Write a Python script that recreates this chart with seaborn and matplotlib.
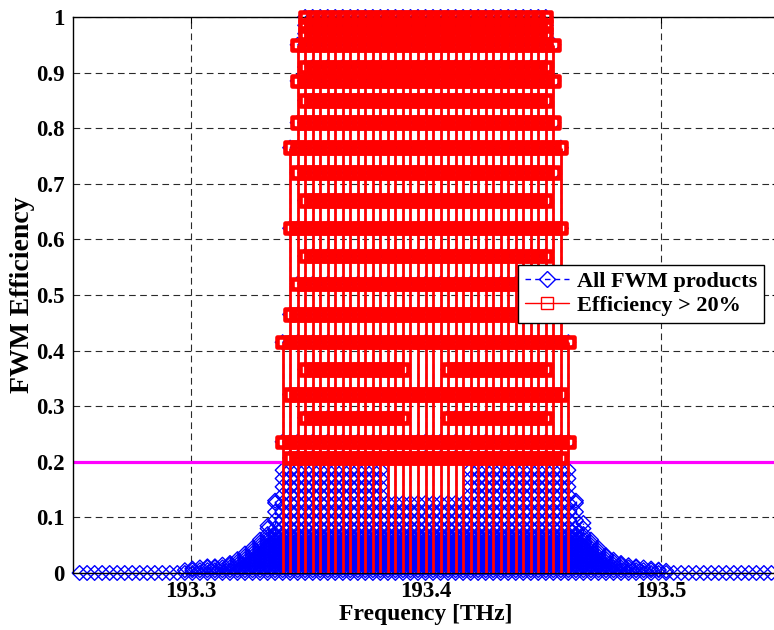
import numpy as np
import pandas as pd
import matplotlib
matplotlib.use("Agg")
import matplotlib.pyplot as plt
import seaborn as sns
from matplotlib.lines import Line2D

# ---------------- data ----------------
# channel grid of the FWM products: 3.2 GHz spacing around 193.4 THz
channel_freqs = np.round(193.4 + 0.0032 * np.arange(-46, 47), 4)

# rows of products with efficiency > 20 %: level, lowest / highest frequency
red_levels = [1.000, 0.985, 0.970, 0.950, 0.910, 0.885, 0.850, 0.810, 0.765, 0.720,
              0.670, 0.620, 0.570, 0.520, 0.465, 0.415, 0.366, 0.321, 0.279, 0.236, 0.207]
red_low = [193.3488, 193.3488, 193.3488, 193.3456, 193.3488, 193.3456, 193.3488, 193.3456,
           193.3424, 193.3456, 193.3488, 193.3424, 193.3488, 193.3456, 193.3424, 193.3392,
           193.3488, 193.3424, 193.3488, 193.3392, 193.3424]
red_high = [193.4512, 193.4512, 193.4512, 193.4544, 193.4512, 193.4544, 193.4512, 193.4544,
            193.4576, 193.4544, 193.4512, 193.4576, 193.4512, 193.4544, 193.4576, 193.4608,
            193.4512, 193.4576, 193.4512, 193.4608, 193.4576]
red_gap_levels = [0.366, 0.279]
red_gap = (193.3920, 193.4080)

# low-efficiency products inside the pump band
blue_levels = [0.185, 0.170, 0.155, 0.140, 0.126, 0.110, 0.095, 0.080, 0.070, 0.065,
               0.060, 0.055, 0.050, 0.045, 0.040, 0.035, 0.030, 0.025, 0.020, 0.015,
               0.010, 0.005]
blue_band = (193.3392, 193.4608)
blue_gap_min_level = 0.140
blue_gap = (193.3830, 193.4170)

# skirts of the product distribution outside the band (peak efficiency per channel)
edge_freqs = [193.3360, 193.3328, 193.3296, 193.3264, 193.3232, 193.3200, 193.3168,
              193.3136, 193.3104, 193.3072, 193.3040, 193.3008, 193.2976,
              193.4640, 193.4672, 193.4704, 193.4736, 193.4768, 193.4800, 193.4832,
              193.4864, 193.4896, 193.4928, 193.4960, 193.4992, 193.5024]
edge_eff = [0.130, 0.085, 0.060, 0.045, 0.035, 0.025, 0.018, 0.015, 0.012, 0.012, 0.010,
            0.008, 0.005,
            0.130, 0.090, 0.060, 0.045, 0.032, 0.024, 0.018, 0.014, 0.012, 0.010, 0.008,
            0.006, 0.004]

threshold = 0.2
x_ticks = [193.3, 193.4, 193.5]
x_ticklabels = ["193.3", "193.4", "193.5"]
y_ticks = [0, 0.1, 0.2, 0.3, 0.4, 0.5, 0.6, 0.7, 0.8, 0.9, 1.0]
y_ticklabels = ["0", "0.1", "0.2", "0.3", "0.4", "0.5", "0.6", "0.7", "0.8", "0.9", "1"]

# ---------------- build product tables ----------------
red_rows = []
for lvl, lo, hi in zip(red_levels, red_low, red_high):
    for f in channel_freqs:
        if lo - 1e-6 <= f <= hi + 1e-6:
            if lvl in red_gap_levels and red_gap[0] < f < red_gap[1]:
                continue
            red_rows.append((f, lvl))
red_df = pd.DataFrame(red_rows, columns=["freq", "eff"])

blue_rows = list(red_rows)
for lvl in blue_levels:
    for f in channel_freqs:
        if blue_band[0] - 1e-6 <= f <= blue_band[1] + 1e-6:
            if lvl >= blue_gap_min_level and blue_gap[0] < f < blue_gap[1]:
                continue
            blue_rows.append((f, lvl))
for f, h in zip(edge_freqs, edge_eff):
    blue_rows.append((f, h))
    for lvl in blue_levels:
        if lvl < h:
            blue_rows.append((f, lvl))
for f in channel_freqs:
    blue_rows.append((f, 0.0))
blue_df = pd.DataFrame(blue_rows, columns=["freq", "eff"])

blue_stems = blue_df.groupby("freq", as_index=False)["eff"].max()
red_stems = red_df.groupby("freq", as_index=False)["eff"].max()

# ---------------- figure ----------------
sns.set_theme(style="white")
plt.rcParams["font.family"] = ["Liberation Serif", "DejaVu Serif"]
plt.rcParams["font.weight"] = "bold"
plt.rcParams["text.color"] = "black"
plt.rcParams["axes.labelcolor"] = "black"
plt.rcParams["xtick.color"] = "black"
plt.rcParams["ytick.color"] = "black"

fig = plt.figure(figsize=(7.74, 6.30), dpi=100)
ax = fig.add_axes([73 / 774, 57 / 630, 705 / 774, 556 / 630])
ax.set_facecolor("white")

ax.vlines(blue_stems["freq"], 0, blue_stems["eff"], colors="#0000FF",
          linestyles=(0, (4, 3)), linewidth=1.0, zorder=2)
sns.scatterplot(data=blue_df, x="freq", y="eff", ax=ax, marker="D", s=56,
                color="#0000FF", facecolor="none", edgecolor="#0000FF",
                linewidth=1.0, zorder=2.1, legend=False, clip_on=False)

ax.axhline(threshold, color="#FF00FF", linewidth=2.3, zorder=2.5)

ax.vlines(red_stems["freq"], 0, red_stems["eff"], colors="#FF0000",
          linewidth=2.0, zorder=3)
sns.scatterplot(data=red_df, x="freq", y="eff", ax=ax, marker="s", s=56,
                color="#FF0000", facecolor="none", edgecolor="#FF0000",
                linewidth=3.3, zorder=3.1, legend=False, clip_on=False)

ax.set_xlim(193.25, 193.55)
ax.set_ylim(0, 1)
ax.set_xticks(x_ticks)
ax.set_xticklabels(x_ticklabels)
ax.set_yticks(y_ticks)
ax.set_yticklabels(y_ticklabels)
ax.tick_params(axis="both", direction="in", length=4, width=0.8, labelsize=16.5,
               colors="black", top=True, right=True, pad=6)
for lab in ax.get_xticklabels() + ax.get_yticklabels():
    lab.set_fontweight("bold")

ax.grid(True, linestyle=(0, (6, 4)), color="#2a2a2a", linewidth=0.8, zorder=0.5)
ax.set_axisbelow(True)
for sp in ax.spines.values():
    sp.set_color("black")
    sp.set_linewidth(1.0)

ax.set_xlabel("Frequency [THz]", fontsize=17, fontweight="bold", labelpad=1)
ax.set_ylabel("FWM Efficiency", fontsize=20, fontweight="bold", labelpad=1)

handles = [
    Line2D([0], [0], color="#0000FF", linestyle=(0, (4, 3)), linewidth=1.0, marker="D",
           markersize=8, markerfacecolor="none", markeredgecolor="#0000FF"),
    Line2D([0], [0], color="#FF0000", linestyle="-", linewidth=1.0, marker="s",
           markersize=8, markerfacecolor="none", markeredgecolor="#FF0000"),
]
leg = ax.legend(handles, ["All FWM products", "Efficiency > 20%"],
                loc="upper left", bbox_to_anchor=(0.631, 0.554), borderaxespad=0,
                frameon=True, fancybox=False, framealpha=1, edgecolor="black",
                prop={"family": "Liberation Serif", "weight": "bold", "size": 16},
                handlelength=2.0, handletextpad=0.35, borderpad=0.3, labelspacing=0.15)
leg.get_frame().set_linewidth(1.0)
leg.set_zorder(10)

fig.savefig("out.png", dpi=100)
